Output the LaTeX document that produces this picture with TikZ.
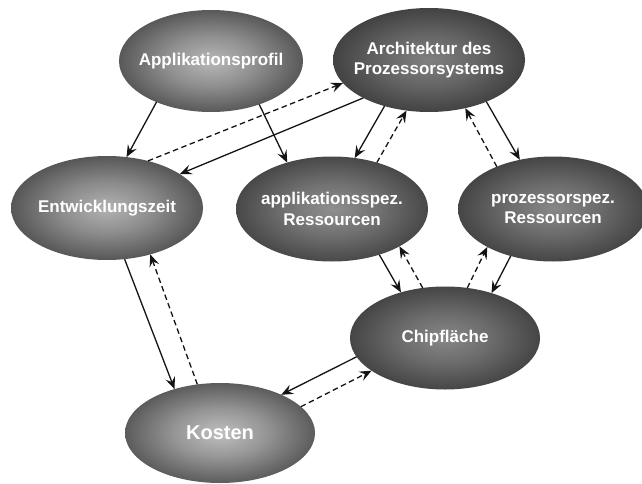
\documentclass[tikz,border=0pt]{standalone}
\usepackage{fontspec}
\setmainfont{Liberation Sans}
\usetikzlibrary{arrows.meta,shapes.geometric}
\colorlet{ictr}{black!40}
\colorlet{edg}{black!90}
\pgfdeclareradialshading[ictr,edg]{ballgray}{\pgfpoint{0bp}{0bp}}{%
  color(0bp)=(ictr); color(12bp)=(ictr!75!edg); color(25bp)=(ictr!40!edg);
  color(35bp)=(edg); color(100bp)=(edg)}
\begin{document}
\begin{tikzpicture}[x=1pt,y=-1pt,
  el/.style={ellipse, minimum width=191pt, minimum height=103pt, inner sep=0pt, outer sep=0pt,
    /utils/exec={\colorlet{ictr}{black!#1}}, shading=ballgray},
  txt/.style={text=white, align=center, font=\bfseries\fontsize{17}{20.5}\selectfont},
  big/.style={text=white, align=center, font=\bfseries\fontsize{20}{24}\selectfont},
  arr/.style={line width=1.3pt, draw=black!92, -{Stealth[length=12pt,width=10pt,inset=4.5pt]}},
  dsh/.style={arr, dash pattern=on 5.5pt off 3.5pt}
]
\useasboundingbox (0,0) rectangle (642,484);
\fill[white] (0,0) rectangle (642,484);

\node[el=28, minimum width=184pt, minimum height=102pt,
  label={[txt]center:Applikationsprofil}] (A) at (211,61) {};
\node[el=50, minimum width=192pt, minimum height=104pt,
  label={[txt]center:Architektur des\\Prozessorsystems}] (R) at (429,60) {};
\node[el=30, minimum width=192pt, minimum height=104pt,
  label={[txt]center:Entwicklungszeit}] (E) at (107,208) {};
\node[el=44, minimum width=192pt, minimum height=105pt,
  label={[txt]center:applikationsspez.\\Ressourcen}] (S) at (332,209) {};
\node[el=47, minimum width=190pt, minimum height=105pt,
  label={[txt]center:prozessorspez.\\Ressourcen}] (P) at (553,209) {};
\node[el=47, minimum width=190pt, minimum height=103pt,
  label={[txt]center:Chipfläche}] (C) at (445,338) {};
\node[el=25, minimum width=190pt, minimum height=100pt,
  label={[big]center:Kosten}] (K) at (220,433) {};

% solid arrows
\draw[arr] (A.217) -- (E.69);
\draw[arr] (A.318) -- (S.134);
\draw[arr] (R.210) -- (E.25);
\draw[arr] (R.226) -- (S.66);
\draw[arr] (R.324) -- (P.124);
\draw[arr] (S.316) -- (C.134);
\draw[arr] (P.228) -- (C.44);
\draw[arr] (E.289) -- (K.136);
\draw[arr] (C.192) -- (K.32);
% dashed arrows
\draw[dsh] (E.49) -- (R.195);
\draw[dsh] (S.46) -- (R.246);
\draw[dsh] (P.143) -- (R.307);
\draw[dsh] (C.114) -- (S.331);
\draw[dsh] (C.66) -- (P.210);
\draw[dsh] (K.115) -- (E.313);
\draw[dsh] (K.18) -- (C.204);
\end{tikzpicture}
\end{document}
